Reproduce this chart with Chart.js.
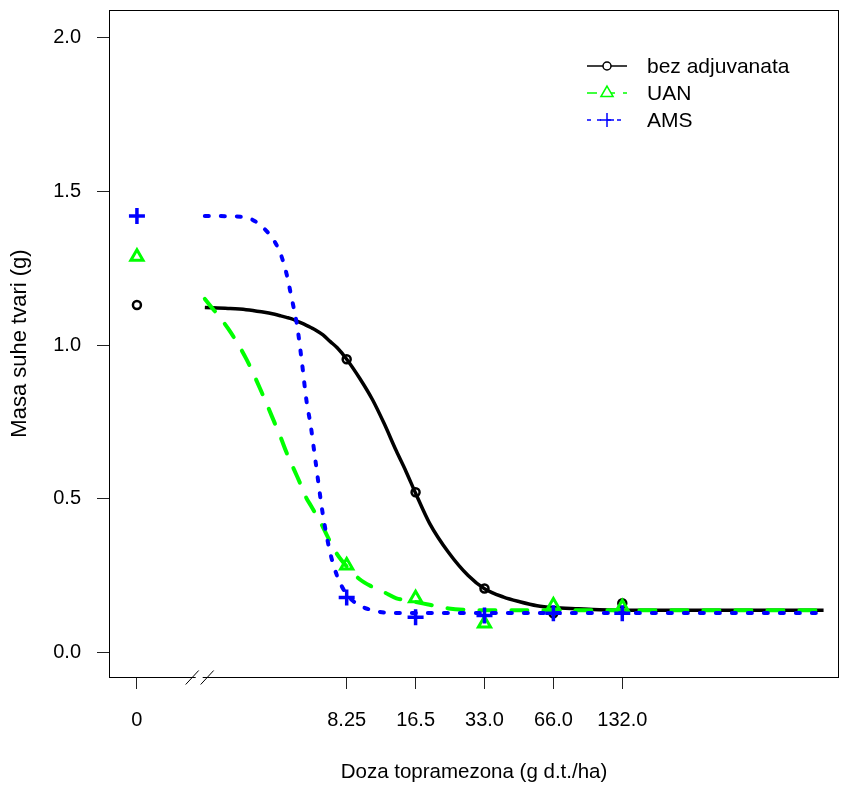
<!DOCTYPE html>
<html>
<head>
<meta charset="utf-8">
<title>Masa suhe tvari</title>
<script src="https://cdn.jsdelivr.net/npm/chart.js@4.4.0/dist/chart.umd.min.js"></script>
<style>
  body { margin: 0; background: #fff; overflow: hidden; }
  canvas { display: block; }
</style>
</head>
<body>
<canvas id="chart" width="841" height="785"></canvas>
<script>
// Doze i oznake na x osi (0 se crta na mjestu zeroAt)
const doses = [0, 8.25, 16.5, 33, 66, 132];
const tickLabels = ['0', '8.25', '16.5', '33.0', '66.0', '132.0'];
const zeroAt = 1;
const breakDose = 1.88;
const yTicks = [0, 0.5, 1.0, 1.5, 2.0];

const seriesNames = ['bez adjuvanata', 'UAN', 'AMS'];

// Izmjerene vrijednosti
const obsBez = [1.130, 0.954, 0.521, 0.208, 0.127, 0.160];
const obsUan = [1.287, 0.283, 0.176, 0.094, 0.153, 0.147];
const obsAms = [1.420, 0.179, 0.114, 0.120, 0.127, 0.127];

// Krivulje ocitane sa slike
const curveDoses = [1.98, 2.5, 3, 3.5, 4, 4.25, 4.5, 4.75, 5, 5.25, 5.5, 5.75, 6, 6.5, 7, 7.5,
  8.25, 9.4, 10.7, 12, 13.6, 15, 16.5, 19, 23, 28, 33, 40, 47, 56, 66, 85, 105, 150, 200, 300, 500, 1000];
const fitBez = [1.122, 1.119, 1.115, 1.108, 1.100, 1.095, 1.090, 1.085, 1.078, 1.071, 1.064, 1.057, 1.050, 1.033, 1.011, 0.991,
  0.954, 0.892, 0.822, 0.746, 0.655, 0.588, 0.518, 0.420, 0.325, 0.250, 0.207, 0.180, 0.165, 0.152, 0.146, 0.142, 0.139, 0.137, 0.137, 0.137, 0.137, 0.137];
const fitUan = [1.150, 1.054, 0.956, 0.848, 0.746, 0.699, 0.651, 0.611, 0.574, 0.538, 0.502, 0.478, 0.454, 0.407, 0.359, 0.319,
  0.280, 0.238, 0.213, 0.196, 0.176, 0.170, 0.164, 0.155, 0.143, 0.138, 0.137, 0.137, 0.137, 0.137, 0.137, 0.137, 0.137, 0.137, 0.137, 0.137, 0.137, 0.137];
const fitAms = [1.420, 1.419, 1.415, 1.387, 1.336, 1.295, 1.233, 1.150, 1.067, 0.948, 0.821, 0.736, 0.634, 0.446, 0.322, 0.248,
  0.189, 0.153, 0.137, 0.130, 0.128, 0.128, 0.128, 0.128, 0.128, 0.128, 0.128, 0.128, 0.128, 0.128, 0.128, 0.128, 0.128, 0.128, 0.128, 0.128, 0.128, 0.128];

const black = '#000000';
const green = '#00ff00';
const blue = '#0000ff';
const fontFamily = "'Liberation Sans', Arial, sans-serif";

function toAxis(d) {
  return d === 0 ? zeroAt : d;
}

function pts(xs, ys) {
  return xs.map((d, i) => ({ x: toAxis(d), y: ys[i] }));
}

const styles = [
  { color: black, width: 3.5, dash: [], point: 'circle', radius: 4, pw: 2.5 },
  { color: green, width: 4, dash: [16, 16], point: 'triangle', radius: 7, pw: 3 },
  { color: blue, width: 4, dash: [4, 12], point: 'cross', radius: 8, pw: 3.5 }
];
const fits = [fitBez, fitUan, fitAms];
const observed = [obsBez, obsUan, obsAms];

const datasets = [];
styles.forEach((s, i) => {
  datasets.push({
    label: seriesNames[i],
    data: pts(doses, observed[i]),
    showLine: false,
    pointStyle: s.point,
    pointRadius: s.radius,
    pointBorderWidth: s.pw,
    pointBorderColor: s.color,
    pointBackgroundColor: 'rgba(0,0,0,0)',
    order: 10 - i * 2
  });
  datasets.push({
    label: seriesNames[i] + ' fit',
    data: pts(curveDoses, fits[i]),
    showLine: true,
    borderColor: s.color,
    borderWidth: s.width,
    borderDash: s.dash,
    borderCapStyle: s.dash.length ? 'round' : 'butt',
    borderJoinStyle: 'round',
    cubicInterpolationMode: 'monotone',
    pointRadius: 0,
    order: 9 - i * 2
  });
});

// okvir, prekid osi i legenda
const extrasPlugin = {
  id: 'extras',
  afterDraw(chart) {
    const { ctx, chartArea } = chart;
    const xs = chart.scales.x;
    ctx.save();
    ctx.strokeStyle = black;
    ctx.lineWidth = 1;
    ctx.strokeRect(chartArea.left + 0.5, chartArea.top + 0.5,
      chartArea.right - chartArea.left - 1, chartArea.bottom - chartArea.top);

    // prekid na x osi
    const bx = xs.getPixelForValue(breakDose);
    const by = chartArea.bottom + 0.5;
    ctx.fillStyle = '#fff';
    ctx.fillRect(bx - 4, by - 2, 7, 4);
    ctx.beginPath();
    ctx.moveTo(bx - 14, by + 7);
    ctx.lineTo(bx - 1, by - 7);
    ctx.moveTo(bx + 1, by + 7);
    ctx.lineTo(bx + 14, by - 7);
    ctx.stroke();

    // legenda
    const lx = chartArea.right - 252;
    let ly = chartArea.top + 56;
    ctx.font = '21px ' + fontFamily;
    ctx.textBaseline = 'middle';
    styles.forEach((s, i) => {
      ctx.strokeStyle = s.color;
      ctx.lineWidth = 1.5;
      ctx.setLineDash(s.dash.length ? [s.dash[0] / 2 + 2, s.dash[1] / 2] : []);
      ctx.beginPath();
      ctx.moveTo(lx, ly);
      ctx.lineTo(lx + 40, ly);
      ctx.stroke();
      ctx.setLineDash([]);
      ctx.fillStyle = '#fff';
      Chart.helpers.drawPoint(ctx, {
        pointStyle: s.point,
        radius: s.point === 'circle' ? 4 : 7,
        borderWidth: 1.5,
        rotation: 0
      }, lx + 20, ly);
      ctx.fillStyle = black;
      ctx.fillText(seriesNames[i], lx + 60, ly + 1);
      ly += 27;
    });
    ctx.restore();
  }
};

new Chart(document.getElementById('chart'), {
  type: 'scatter',
  data: { datasets: datasets },
  plugins: [extrasPlugin],
  options: {
    responsive: false,
    animation: false,
    layout: { autoPadding: false, padding: { top: 10, right: 2, left: 0, bottom: 0 } },
    plugins: {
      legend: { display: false },
      tooltip: { enabled: false }
    },
    scales: {
      x: {
        type: 'logarithmic',
        min: 0.755,
        max: 1168,
        border: { display: false },
        grid: { drawOnChartArea: false, drawTicks: true, tickLength: 12, color: '#222' },
        afterBuildTicks: scale => {
          scale.ticks = doses.map(d => ({ value: toAxis(d) }));
        },
        afterFit: scale => {
          scale.height = 108;
          scale.paddingLeft = 0;
          scale.paddingRight = 0;
        },
        ticks: {
          autoSkip: false,
          maxRotation: 0,
          padding: 19,
          color: black,
          font: { family: fontFamily, size: 20 },
          callback: (value, index) => tickLabels[index]
        },
        title: {
          display: true,
          text: 'Doza topramezona (g d.t./ha)',
          color: black,
          font: { family: fontFamily, size: 20.5 },
          padding: { top: 0, bottom: 0 }
        }
      },
      y: {
        min: -0.08,
        max: 2.09,
        border: { display: false },
        grid: { drawOnChartArea: false, drawTicks: true, tickLength: 12, color: '#222' },
        afterBuildTicks: scale => {
          scale.ticks = yTicks.map(v => ({ value: v }));
        },
        afterFit: scale => {
          scale.width = 109;
          scale.paddingTop = 0;
          scale.paddingBottom = 0;
        },
        ticks: {
          padding: 16,
          color: black,
          font: { family: fontFamily, size: 20 },
          callback: value => value.toFixed(1)
        },
        title: {
          display: true,
          text: 'Masa suhe tvari (g)',
          color: black,
          font: { family: fontFamily, size: 22 },
          padding: { top: 7, bottom: 0 }
        }
      }
    }
  }
});
</script>
</body>
</html>
